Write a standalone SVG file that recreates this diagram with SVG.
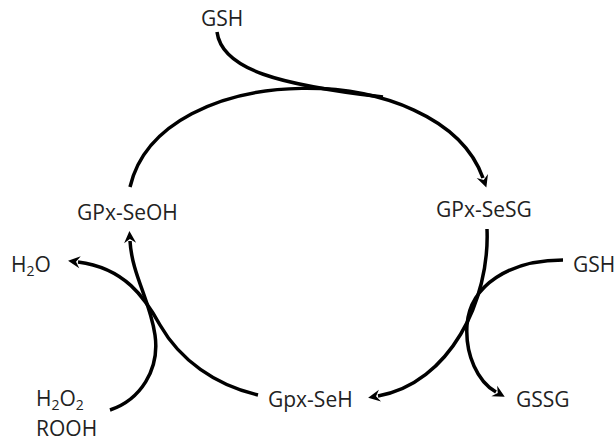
<svg xmlns="http://www.w3.org/2000/svg" width="614" height="441" viewBox="0 0 614 441">
<style>
.lbl{font-family:"Open Sans","Noto Sans","Liberation Sans",sans-serif;font-size:21px;fill:#222}
.sub{font-size:14px}
.c{fill:none;stroke:#000;stroke-width:3.5;stroke-linecap:butt}
.a{marker-end:url(#ah)}
</style>
<defs>
<marker id="ah" viewBox="0 0 16 16" markerWidth="16" markerHeight="16" refX="4" refY="8" orient="auto" markerUnits="userSpaceOnUse">
<path d="M14,8 L2,2 L6,8 L2,14 Z" fill="#000"/>
</marker>
</defs>
<rect width="614" height="441" fill="#fff"/>
<g id="connectors">
<path class="c a" d="M130,187 C160,57 440,57 483,178"/>
<path class="c" d="M217,32 C222,70 280,85 383,97"/>
<path class="c a" d="M110,410 C140,400 160,370 155,335 C150,300 132,275 130,241"/>
<path class="c a" d="M258,395 C215,385 180,360 160,325 C145,298 125,268 78,262"/>
<path class="c a" d="M487,229 C490,300 450,383 378,396"/>
<path class="c a" d="M563,260 C510,260 470,285 467,325 C465,355 478,382 496,392"/>
</g>
<g id="gsh-top"><text class="lbl" x="201" y="26">GSH</text></g>
<g id="gpx-seoh"><text class="lbl" x="77" y="220">GPx-SeOH</text></g>
<g id="gpx-sesg"><text class="lbl" x="436" y="217">GPx-SeSG</text></g>
<g id="h2o"><text class="lbl" x="11" y="272">H<tspan class="sub" dy="4">2</tspan><tspan dy="-4">O</tspan></text></g>
<g id="gsh-right"><text class="lbl" x="573" y="272">GSH</text></g>
<g id="h2o2-rooh"><text class="lbl" x="36" y="406">H<tspan class="sub" dy="4">2</tspan><tspan dy="-4">O</tspan><tspan class="sub" dy="4">2</tspan></text><text class="lbl" x="36" y="436">ROOH</text></g>
<g id="gpx-seh"><text class="lbl" x="268" y="407">Gpx-SeH</text></g>
<g id="gssg"><text class="lbl" x="516" y="407">GSSG</text></g>
</svg>
